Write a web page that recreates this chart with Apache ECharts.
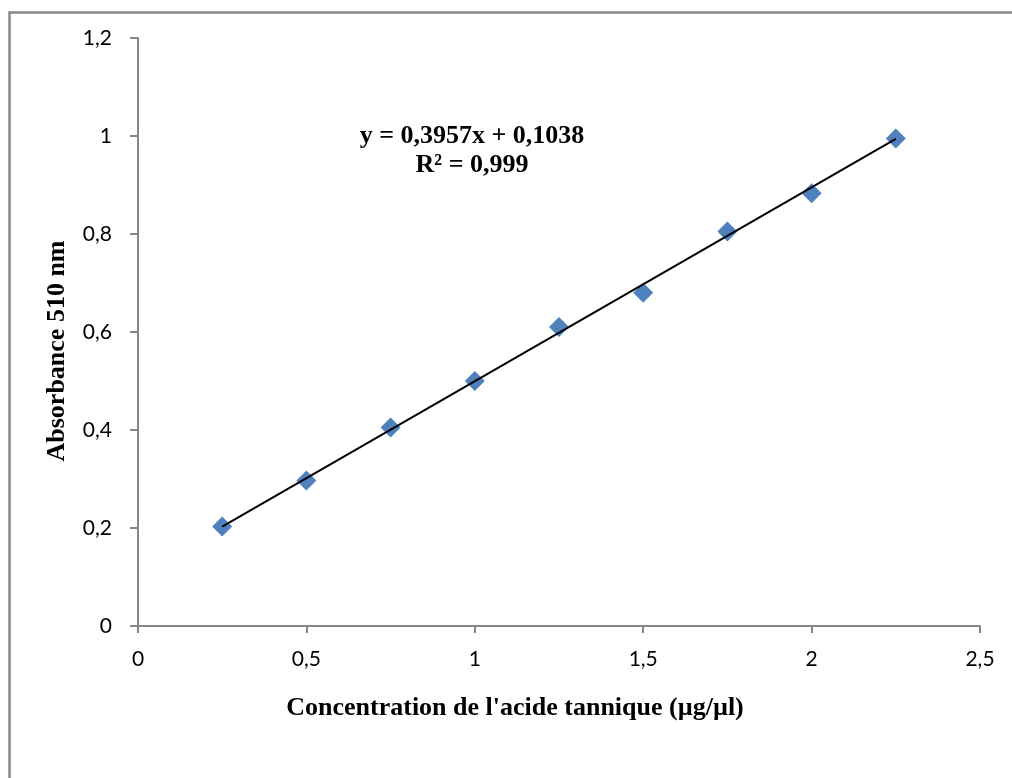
<!DOCTYPE html>
<html>
<head>
<meta charset="utf-8">
<script src="https://cdn.jsdelivr.net/npm/echarts@6/dist/echarts.min.js"></script>
<style>
html,body{margin:0;padding:0;background:#fff;}
#chart{width:1012px;height:778px;}
</style>
</head>
<body>
<div id="chart"></div>
<script>
// Data
var concentrations = [0.25, 0.5, 0.75, 1.0, 1.25, 1.5, 1.75, 2.0, 2.25];
var absorbances = [0.203, 0.297, 0.405, 0.5, 0.61, 0.68, 0.805, 0.883, 0.995];
var trendX = [0.25, 2.25];
var trendY = [0.203, 0.994];
var equationLines = ['y = 0,3957x + 0,1038', 'R² = 0,999'];
var xAxisTitle = "Concentration de l'acide tannique (µg/µl)";
var yAxisTitle = 'Absorbance 510 nm';

var chart = echarts.init(document.getElementById('chart'));
var fmt = function (v) { return String(Math.round(v * 10) / 10).replace('.', ','); };

var scatterData = concentrations.map(function (x, i) { return [x, absorbances[i]]; });
var trendData = trendX.map(function (x, i) { return [x, trendY[i]]; });
var serifBold = 'bold 26px "Liberation Serif", "Times New Roman", serif';

chart.setOption({
  animation: false,
  backgroundColor: '#fff',
  grid: { left: 138, right: 32, top: 38, bottom: 152 },
  xAxis: {
    type: 'value', min: 0, max: 2.5, interval: 0.5,
    axisLine: { show: true, onZero: false, lineStyle: { color: '#868686', width: 2 } },
    axisTick: { show: true, inside: false, length: 7, lineStyle: { color: '#868686', width: 2 } },
    splitLine: { show: false },
    axisLabel: { formatter: fmt, color: '#000', fontFamily: 'Lato, "Open Sans", sans-serif', fontSize: 21, margin: 23 }
  },
  yAxis: {
    type: 'value', min: 0, max: 1.2, interval: 0.2,
    axisLine: { show: true, onZero: false, lineStyle: { color: '#868686', width: 2 } },
    axisTick: { show: true, inside: false, length: 8, lineStyle: { color: '#868686', width: 2 } },
    splitLine: { show: false },
    axisLabel: { formatter: fmt, color: '#000', fontFamily: 'Lato, "Open Sans", sans-serif', fontSize: 21, margin: 26 }
  },
  graphic: [
    { type: 'rect', left: 7, top: 10, shape: { width: 1100, height: 1000 }, style: { fill: 'none', stroke: '#888888', lineWidth: 2.5 }, silent: true, z: -1 },
    { type: 'text', x: 515, y: 708, style: { text: xAxisTitle, fill: '#000', font: serifBold, textAlign: 'center', textVerticalAlign: 'middle' } },
    { type: 'text', x: 57, y: 351, rotation: Math.PI / 2, style: { text: yAxisTitle, fill: '#000', font: serifBold, textAlign: 'center', textVerticalAlign: 'middle' } },
    { type: 'text', x: 472, y: 136, style: { text: equationLines[0], fill: '#000', font: serifBold, textAlign: 'center', textVerticalAlign: 'middle' } },
    { type: 'text', x: 472, y: 165, style: { text: equationLines[1], fill: '#000', font: serifBold, textAlign: 'center', textVerticalAlign: 'middle' } }
  ],
  series: [
    {
      type: 'line', data: trendData, showSymbol: false, symbol: 'none',
      lineStyle: { color: '#000', width: 2 }, z: 3, silent: true
    },
    {
      type: 'scatter', data: scatterData, symbol: 'diamond', symbolSize: [20, 20],
      itemStyle: { color: '#4F81BD', opacity: 1 }, z: 2
    }
  ]
});
</script>
</body>
</html>
